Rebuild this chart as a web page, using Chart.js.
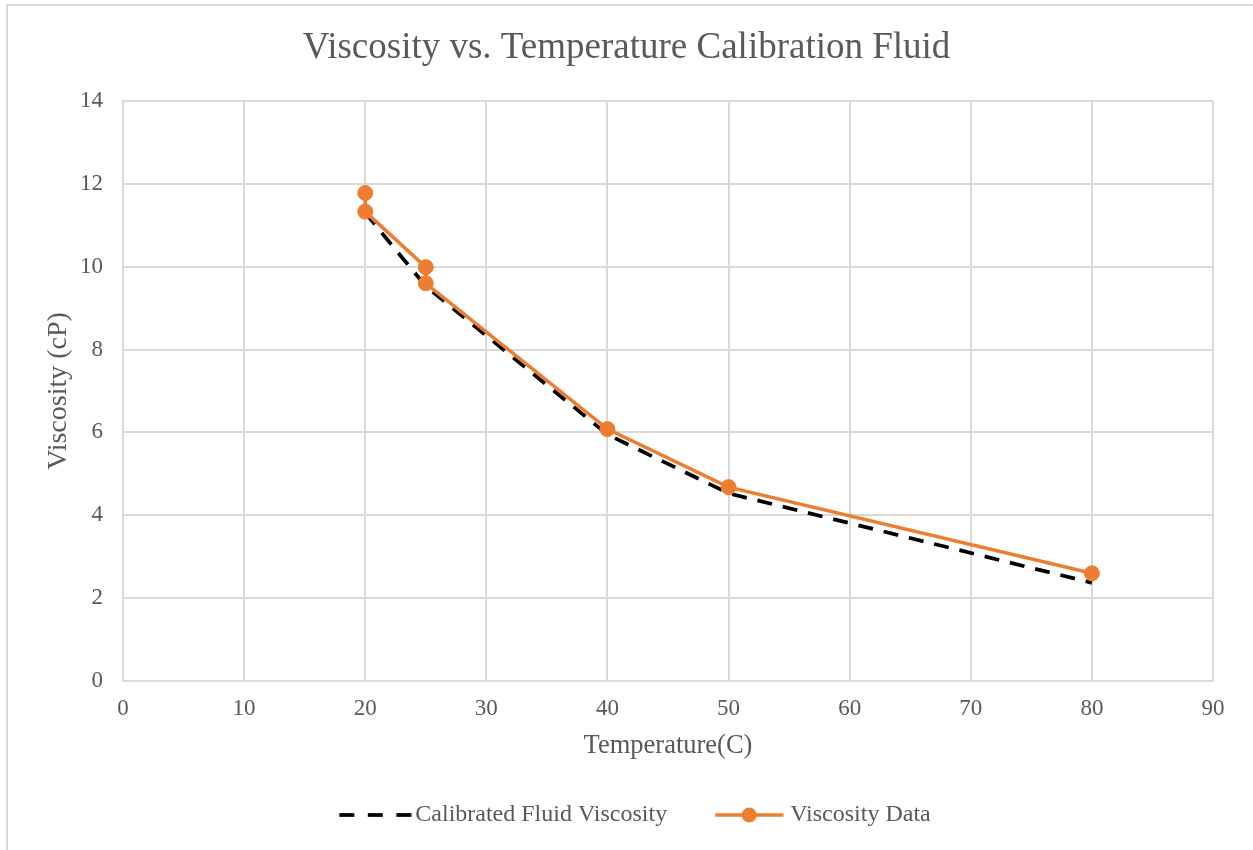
<!DOCTYPE html>
<html>
<head>
<meta charset="utf-8">
<title>Viscosity vs. Temperature Calibration Fluid</title>
<script src="https://cdn.jsdelivr.net/npm/chart.js@4.4.1/dist/chart.umd.min.js"></script>
<style>
  html, body { margin: 0; padding: 0; background: #fff; overflow: hidden; }
  #frame { position: absolute; left: 6px; top: 4px; width: 1400px; height: 1000px;
           border-left: 2px solid #d9d9d9; border-top: 2px solid #d9d9d9; }
  #chart { position: absolute; left: 0; top: 0; }
</style>
</head>
<body>
<div id="frame"></div>
<canvas id="chart" width="1253" height="850"></canvas>
<script>
// Dữ liệu
const calTemps = [20, 25, 40, 50, 80];
const calViscosity = [11.3, 9.53, 5.95, 4.53, 2.37];
const dataTemps = [20, 20, 25, 25, 40, 50, 80];
const dataViscosity = [11.78, 11.33, 9.99, 9.6, 6.08, 4.68, 2.6];
const xTicks = [0, 10, 20, 30, 40, 50, 60, 70, 80, 90];
const yTicks = [0, 2, 4, 6, 8, 10, 12, 14];

const seriesNames = ['Calibrated Fluid Viscosity', 'Viscosity Data'];
const ORANGE = '#ED7D31';
const TEXT = '#595959';
const GRID = '#d9d9d9';

Chart.defaults.font.family = "'Liberation Serif', 'Times New Roman', serif";
Chart.defaults.color = TEXT;

// Legend markers (canvas used as pointStyle)
const BOX_W = 81;
function legendMarker(from, to, height, draw) {
    const half = Math.ceil(Math.max(BOX_W / 2 - from, to - BOX_W / 2));
    const c = document.createElement('canvas');
    c.width = half * 2;
    c.height = height;
    const g = c.getContext('2d');
    g.translate(half - BOX_W / 2, height / 2);
    draw(g);
    return c;
}
const dashMarker = legendMarker(17, 89, 8, g => {
    g.strokeStyle = '#000';
    g.lineWidth = 3.75;
    for (let i = 0; i < 3; i++) {
        g.beginPath();
        g.moveTo(17 + i * 28.5, 0);
        g.lineTo(32 + i * 28.5, 0);
        g.stroke();
    }
});
const dotMarker = legendMarker(18, 86, 18, g => {
    g.strokeStyle = ORANGE;
    g.fillStyle = ORANGE;
    g.lineWidth = 3.5;
    g.beginPath();
    g.moveTo(18, 0);
    g.lineTo(86, 0);
    g.stroke();
    g.beginPath();
    g.arc(52, 0, 7.5, 0, Math.PI * 2);
    g.fill();
});

const ctx = document.getElementById('chart').getContext('2d');
new Chart(ctx, {
    type: 'line',
    data: {
        datasets: [{
            label: seriesNames[0],
            data: calTemps.map((t, i) => ({ x: t, y: calViscosity[i] })),
            borderColor: '#000',
            borderWidth: 3.75,
            borderDash: [15, 11],
            pointRadius: 0,
            tension: 0,
            order: 2
        }, {
            label: seriesNames[1],
            data: dataTemps.map((t, i) => ({ x: t, y: dataViscosity[i] })),
            borderColor: ORANGE,
            backgroundColor: ORANGE,
            borderWidth: 3.5,
            pointRadius: 7.5,
            pointBorderWidth: 1,
            pointBackgroundColor: ORANGE,
            pointBorderColor: ORANGE,
            tension: 0,
            order: 1
        }]
    },
    options: {
        responsive: false,
        animation: false,
        layout: { padding: { left: 0, right: 0, top: 0, bottom: 13 } },
        plugins: {
            title: {
                display: true,
                text: 'Viscosity vs. Temperature Calibration Fluid',
                color: TEXT,
                font: { size: 37, weight: 'normal' },
                padding: { top: 25.8, bottom: 30.8 }
            },
            legend: {
                position: 'bottom',
                labels: {
                    usePointStyle: true,
                    pointStyleWidth: BOX_W,
                    padding: 30,
                    color: TEXT,
                    font: { size: 24 },
                    generateLabels: () => [
                        { text: seriesNames[0], pointStyle: dashMarker, fontColor: TEXT,
                          fillStyle: 'transparent', strokeStyle: 'transparent', lineWidth: 0, datasetIndex: 0 },
                        { text: seriesNames[1], pointStyle: dotMarker, fontColor: TEXT,
                          fillStyle: 'transparent', strokeStyle: 'transparent', lineWidth: 0, datasetIndex: 1 }
                    ]
                }
            },
            tooltip: { enabled: false }
        },
        scales: {
            x: {
                type: 'linear',
                min: xTicks[0],
                max: xTicks[xTicks.length - 1],
                afterBuildTicks: s => { s.ticks = xTicks.map(v => ({ value: v })); },
                afterFit: s => { s.height = 92; },
                grid: { color: GRID, lineWidth: 2, drawTicks: false },
                border: { color: GRID, width: 2 },
                ticks: { padding: 14.2, color: TEXT, font: { size: 23 } },
                title: {
                    display: true,
                    text: 'Temperature(C)',
                    color: TEXT,
                    font: { size: 26.5 },
                    padding: { top: 0, bottom: 11.1 }
                }
            },
            y: {
                type: 'linear',
                min: yTicks[0],
                max: yTicks[yTicks.length - 1],
                afterBuildTicks: s => { s.ticks = yTicks.map(v => ({ value: v })); },
                afterFit: s => { s.width = 123; },
                grid: { color: GRID, lineWidth: 2, drawTicks: false },
                border: { color: GRID, width: 2 },
                ticks: { padding: 20, color: TEXT, font: { size: 23 } },
                title: {
                    display: true,
                    text: 'Viscosity (cP)',
                    color: TEXT,
                    font: { size: 28 },
                    padding: { top: 41.7, bottom: 0 }
                }
            },
            yRight: {
                type: 'linear',
                position: 'right',
                display: true,
                grid: { display: false },
                border: { display: false },
                ticks: { display: false },
                afterFit: s => { s.width = 40; }
            }
        }
    }
});
</script>
</body>
</html>
